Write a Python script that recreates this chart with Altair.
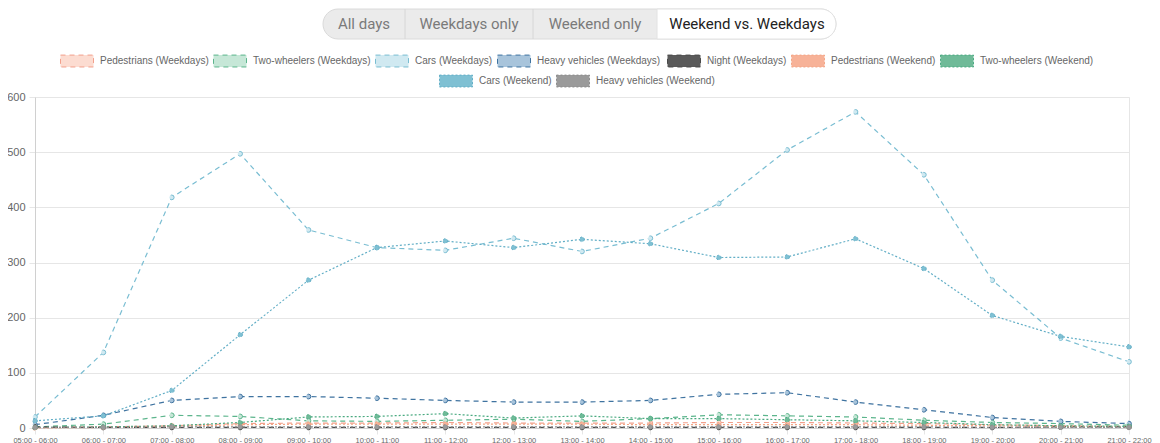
import altair as alt
import pandas as pd

hours = ["05:00 - 06:00", "06:00 - 07:00", "07:00 - 08:00", "08:00 - 09:00", "09:00 - 10:00",
         "10:00 - 11:00", "11:00 - 12:00", "12:00 - 13:00", "13:00 - 14:00", "14:00 - 15:00",
         "15:00 - 16:00", "16:00 - 17:00", "17:00 - 18:00", "18:00 - 19:00", "19:00 - 20:00",
         "20:00 - 21:00", "21:00 - 22:00"]

series_names = ["Pedestrians (Weekdays)", "Two-wheelers (Weekdays)", "Cars (Weekdays)",
                "Heavy vehicles  (Weekdays)", "Night (Weekdays)", "Pedestrians (Weekend)",
                "Two-wheelers (Weekend)", "Cars (Weekend)", "Heavy vehicles  (Weekend)"]

pedestrians_wd = [1, 2, 4, 8, 9, 9, 10, 9, 9, 9, 10, 10, 9, 8, 6, 4, 3]
two_wheelers_wd = [2, 7, 23, 21, 13, 12, 14, 16, 12, 17, 24, 22, 20, 14, 10, 8, 5]
cars_wd = [20, 137, 418, 497, 359, 327, 322, 344, 320, 344, 407, 504, 573, 459, 268, 163, 120]
heavy_wd = [6, 23, 50, 57, 57, 54, 50, 47, 47, 50, 61, 64, 47, 33, 19, 12, 8]
night_wd = [2, 1, 1, 1, 1, 1, 1, 1, 1, 1, 1, 1, 1, 1, 1, 2, 2]
pedestrians_we = [0, 1, 3, 6, 7, 7, 7, 7, 7, 6, 6, 6, 6, 5, 4, 3, 2]
two_wheelers_we = [1, 2, 4, 10, 20, 21, 26, 18, 22, 17, 17, 15, 13, 10, 6, 4, 3]
cars_we = [13, 22, 68, 169, 268, 327, 339, 327, 342, 334, 309, 310, 343, 289, 204, 166, 147]
heavy_we = [1, 1, 2, 2, 2, 2, 2, 2, 2, 2, 2, 2, 2, 2, 1, 1, 1]

values = [pedestrians_wd, two_wheelers_wd, cars_wd, heavy_wd, night_wd,
          pedestrians_we, two_wheelers_we, cars_we, heavy_we]

stroke_colors = ["#f2a08c", "#5cb58c", "#79bdd2", "#3f73a0", "#4a4a4a",
                 "#f3a585", "#4aaa80", "#62aec6", "#8c8c8c"]
fill_colors = ["#fcdcd1", "#c6e7d7", "#d0e9f1", "#a8c4db", "#5a5a5a",
               "#f7b298", "#6fba98", "#7fc0d3", "#9a9a9a"]
dashes = [[5, 4], [5, 4], [5, 4], [5, 4], [5, 4], [2, 2], [2, 2], [2, 2], [2, 2]]

rows = []
for name, vals in zip(series_names, values):
    for h, v in zip(hours, vals):
        rows.append({"hour": h, "series": name, "value": v})
df = pd.DataFrame(rows)

x_enc = alt.X("hour:N", sort=hours, scale=alt.Scale(type="point", padding=0),
              axis=alt.Axis(title=None, labelAngle=0, labelFontSize=7.5, labelColor="#666",
                            labelFont="Liberation Sans", gridColor="#e6e6e6", domainColor="#d0d0d0",
                            tickColor="#e6e6e6", tickSize=6, labelPadding=2))
y_enc = alt.Y("value:Q", scale=alt.Scale(domain=[0, 600]),
              axis=alt.Axis(title=None, values=[0, 100, 200, 300, 400, 500, 600], labelFontSize=11,
                            labelColor="#666", labelFont="Liberation Sans", gridColor="#e6e6e6",
                            domainColor="#d0d0d0", tickColor="#e6e6e6", tickSize=6, labelPadding=4))


def series_group(idx, lx, ly, col_pad):
    names = [series_names[i] for i in idx]
    sub = df[df["series"].isin(names)]
    legend = alt.Legend(
        title=None, orient="none", legendX=lx, legendY=ly, direction="horizontal",
        symbolType="M-1,-0.36H1V0.36H-1Z", symbolSize=1089, symbolStrokeWidth=1,
        labelFont="Liberation Sans", labelFontSize=10, labelColor="#666",
        columnPadding=col_pad, labelOffset=6, labelLimit=200,
    )
    stroke_scale = alt.Scale(domain=names, range=[stroke_colors[i] for i in idx])
    fill_scale = alt.Scale(domain=names, range=[fill_colors[i] for i in idx])
    dash_scale = alt.Scale(domain=names, range=[dashes[i] for i in idx])
    lines = alt.Chart(sub).mark_line(strokeWidth=1.2).encode(
        x=x_enc, y=y_enc,
        stroke=alt.Stroke("series:N", scale=stroke_scale, sort=names, legend=legend),
        strokeDash=alt.StrokeDash("series:N", scale=dash_scale, sort=names, legend=legend),
    )
    points = alt.Chart(sub).mark_point(filled=True, size=22, strokeWidth=1, opacity=1).encode(
        x=x_enc, y=y_enc,
        fill=alt.Fill("series:N", scale=fill_scale, sort=names, legend=legend),
        stroke=alt.Stroke("series:N", scale=stroke_scale, sort=names, legend=legend),
        strokeDash=alt.StrokeDash("series:N", scale=dash_scale, sort=names, legend=legend),
    )
    return alt.layer(lines, points)


group_a = series_group([0, 1, 2, 3, 4, 5, 6], 25, -53, 2)
group_b = series_group([7, 8], 404, -33, 2)

# segmented button bar (page decoration)
btn = pd.DataFrame({"k": [0]})
pill = alt.Chart(btn).mark_rect(fill="#ebebeb", stroke="#dadada", cornerRadius=15).encode(
    x=alt.value(288), x2=alt.value(801), y=alt.value(-88), y2=alt.value(-58))
active = alt.Chart(btn).mark_rect(fill="#ffffff", stroke="#e2e2e2", cornerRadiusTopRight=15,
                                  cornerRadiusBottomRight=15).encode(
    x=alt.value(622), x2=alt.value(801), y=alt.value(-88), y2=alt.value(-58))
sep1 = alt.Chart(btn).mark_rule(color="#d6d6d6").encode(
    x=alt.value(370), y=alt.value(-88), y2=alt.value(-58))
sep2 = alt.Chart(btn).mark_rule(color="#d6d6d6").encode(
    x=alt.value(498), y=alt.value(-88), y2=alt.value(-58))

button_labels = ["All days", "Weekdays only", "Weekend only", "Weekend vs. Weekdays"]
btn_x = [329, 434, 560, 712]
btn_colors = ["#7a7a7a", "#7a7a7a", "#7a7a7a", "#222222"]
btn_texts = [
    alt.Chart(btn).mark_text(text=t, font="Roboto", fontSize=15, color=c, align="center",
                             baseline="middle").encode(x=alt.value(xv), y=alt.value(-73))
    for t, xv, c in zip(button_labels, btn_x, btn_colors)
]

chart = alt.layer(group_a, group_b, pill, active, sep1, sep2, *btn_texts).resolve_scale(
    stroke="independent", fill="independent", strokeDash="independent"
).properties(
    width=1094, height=331,
    autosize=alt.AutoSizeParams(type="none"),
    padding={"left": 27, "top": 89, "right": 23, "bottom": 15},
).configure_view(stroke="#e6e6e6")

chart.save("out.html", embed_options={"renderer": "svg", "actions": False})
